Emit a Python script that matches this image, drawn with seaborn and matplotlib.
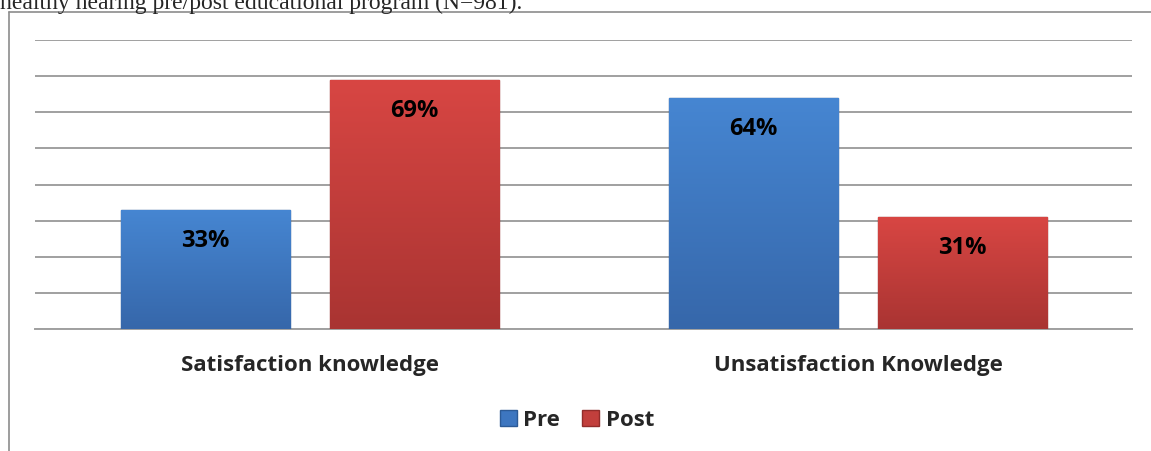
import matplotlib
matplotlib.use('Agg')
import matplotlib.pyplot as plt
from matplotlib.lines import Line2D
from matplotlib.colors import LinearSegmentedColormap
import numpy as np
import seaborn as sns
import pandas as pd

categories = ['Satisfaction knowledge', 'Unsatisfaction Knowledge']
groups = ['Pre', 'Post']
pre_values = [33, 64]
post_values = [69, 31]
colors = {'Pre': '#3D76C0', 'Post': '#C23F3C'}
tops = {'Pre': '#4686D2', 'Post': '#D84643'}
bottoms = {'Pre': '#3667AA', 'Post': '#A93432'}
edges = {'Pre': '#2C5A96', 'Post': '#922C2A'}

df = pd.DataFrame({
    'Knowledge': categories * 2,
    'Group': ['Pre'] * 2 + ['Post'] * 2,
    'Value': pre_values + post_values,
})

sns.set_style('white')
plt.rcParams['font.family'] = ['Open Sans', 'DejaVu Sans']

fig = plt.figure(figsize=(11.51, 4.51), dpi=100)
ax = fig.add_axes([35 / 1151, 1 - 329 / 451, 1097 / 1151, 289 / 451])

sns.barplot(data=df, x='Knowledge', y='Value', hue='Group', hue_order=groups,
            palette=colors, width=0.762, gap=0.19, ax=ax, legend=False,
            saturation=1)

# vertical gradient fill inside each bar
grad = np.linspace(0, 1, 256).reshape(-1, 1)
for bars, g in zip(ax.containers, groups):
    cmap = LinearSegmentedColormap.from_list(g, [bottoms[g], tops[g]])
    vals = pre_values if g == 'Pre' else post_values
    for b, v in zip(bars, vals):
        b.set_edgecolor(edges[g])
        b.set_linewidth(1.0)
        b.set_zorder(3)
        x0 = b.get_x()
        x1 = x0 + b.get_width()
        im = ax.imshow(grad, extent=[x0, x1, 0, v], origin='lower',
                       aspect='auto', cmap=cmap, zorder=3.1)
        im.set_clip_path(b)
        ax.text(x0 + b.get_width() / 2, v - 8.6, f'{v}%',
                ha='center', va='center', fontsize=17, fontweight='bold',
                color='black', zorder=4)

ax.set_ylim(0, 80)
ax.set_xlim(-0.502, 1.5)
ax.set_yticks(range(0, 81, 10))
ax.yaxis.grid(True, color='#A0A0A0', linewidth=1.4)
ax.set_axisbelow(True)
ax.tick_params(axis='y', left=False, labelleft=False)
ax.tick_params(axis='x', bottom=False, labelsize=16, pad=15)
for lbl in ax.get_xticklabels():
    lbl.set_fontweight('bold')
ax.set_xlabel('')
ax.set_ylabel('')
for s in ['top', 'right', 'left']:
    ax.spines[s].set_visible(False)
ax.spines['bottom'].set_color('#A0A0A0')
ax.spines['bottom'].set_linewidth(1.4)

# legend
handles = [plt.Rectangle((0, 0), 1, 1, facecolor=colors[g], edgecolor=edges[g])
           for g in groups]
leg = fig.legend(handles, groups, loc='center', ncol=2, frameon=False,
                 bbox_to_anchor=(577 / 1151, 1 - 420 / 451),
                 prop={'weight': 'bold', 'size': 16},
                 handlelength=0.75, handleheight=0.75, handletextpad=0.3,
                 columnspacing=1.0)

# outer chart frame (partially visible)
fig.add_artist(Line2D([9 / 1151, 9 / 1151], [0, 1 - 12 / 451],
                      color='#8C8C8C', linewidth=1.2))
fig.add_artist(Line2D([9 / 1151, 1], [1 - 12 / 451, 1 - 12 / 451],
                      color='#8C8C8C', linewidth=1.2))

# caption text cut at top edge
fig.text(0, 1 - 9 / 451, 'healthy hearing pre/post educational program (N=981).',
         family=['Liberation Serif', 'DejaVu Serif'], fontsize=17,
         ha='left', va='baseline')

fig.savefig('out.png', dpi=100)
